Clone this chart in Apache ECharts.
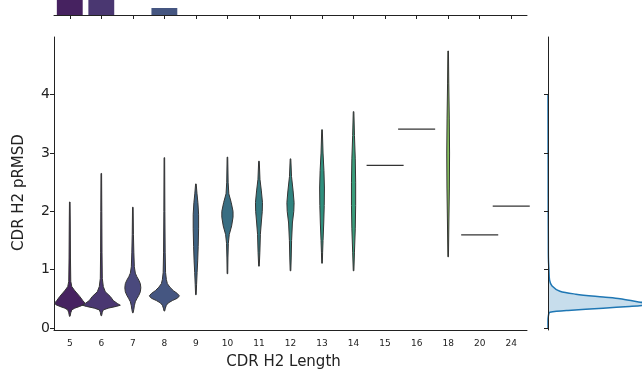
<!DOCTYPE html>
<html>
<head>
<meta charset="utf-8">
<script src="https://cdn.jsdelivr.net/npm/echarts@6/dist/echarts.min.js"></script>
<style>
  html, body { margin: 0; padding: 0; background: #fff; }
  #chart { width: 642px; height: 370px; }
</style>
</head>
<body>
<div id="chart"></div>
<script>
const categories = ["5", "6", "7", "8", "9", "10", "11", "12", "13", "14", "15", "16", "18", "20", "24"];
const viridis = ["#48186a", "#472d7b", "#424086", "#3b528b", "#33638d", "#2c728e", "#26828e", "#21918c",
                 "#1fa088", "#28ae80", "#3fbc73", "#5ec962", "#84d44b", "#addc30", "#d8e219"];

// top marginal histogram counts (5 and 6 run off the top of the figure)
const histCounts = [950, 820, 0, 70, 0, 0, 0, 0, 0, 0, 0, 0, 0, 0, 0];

// violin profiles: [pRMSD, half width (relative density)]
const violin5 = [[0.20, 0.3], [0.26, 1], [0.31, 2], [0.34, 5], [0.37, 10], [0.40, 14], [0.43, 15], [0.47, 13],
                 [0.54, 10], [0.60, 7], [0.65, 4.5], [0.71, 2], [0.80, 1], [1.2, 0.7], [1.8, 0.5], [2.16, 0.3]];
const violin6 = [[0.21, 0.3], [0.27, 1], [0.31, 2], [0.34, 7], [0.37, 15], [0.39, 19], [0.42, 16], [0.47, 12],
                 [0.54, 9], [0.62, 4], [0.71, 2], [0.85, 1], [1.3, 0.7], [2.0, 0.5], [2.65, 0.3]];
const violin7 = [[0.26, 0.3], [0.32, 1], [0.38, 1.5], [0.45, 2.5], [0.50, 4], [0.56, 6], [0.62, 7.5], [0.69, 8],
                 [0.76, 7.5], [0.82, 6], [0.88, 4], [0.94, 2.5], [1.05, 1.5], [1.3, 1], [1.6, 0.6], [2.07, 0.3]];
const violin8 = [[0.29, 0.3], [0.34, 1], [0.39, 2], [0.43, 4], [0.47, 8], [0.51, 13], [0.55, 15], [0.59, 13],
                 [0.64, 9], [0.70, 5.5], [0.76, 3], [0.83, 2], [0.95, 1.2], [1.3, 0.8], [2.0, 0.5], [2.92, 0.3]];
const violin9 = [[0.57, 0.3], [0.75, 0.7], [0.95, 1.2], [1.15, 1.8], [1.4, 2.3], [1.7, 2.7], [1.95, 2.7],
                 [2.15, 2.0], [2.3, 1.1], [2.47, 0.3]];
const violin10 = [[0.93, 0.3], [1.2, 0.5], [1.45, 0.9], [1.6, 1.8], [1.75, 4.2], [1.9, 5.6], [2.0, 5.6], [2.15, 3.8],
                  [2.3, 1.4], [2.5, 0.7], [2.93, 0.3]];
const violin11 = [[1.06, 0.3], [1.3, 0.9], [1.6, 1.4], [1.8, 2.3], [2.0, 3.3], [2.15, 3.5], [2.35, 2.4],
                  [2.55, 1], [2.86, 0.3]];
const violin12 = [[0.98, 0.3], [1.2, 0.7], [1.5, 1.1], [1.8, 1.9], [2.0, 3.3], [2.15, 3.6], [2.35, 2.6],
                  [2.6, 1], [2.9, 0.3]];
const violin13 = [[1.11, 0.3], [1.3, 0.6], [1.5, 1], [1.8, 1.7], [2.1, 2.2], [2.4, 2.4], [2.7, 1.9], [3.0, 1], [3.4, 0.3]];
const violin14 = [[0.98, 0.3], [1.3, 0.9], [1.7, 1.7], [2.1, 2.1], [2.5, 2.1], [2.9, 1.7], [3.3, 0.9], [3.71, 0.3]];
const violin18 = [[1.22, 0.3], [1.8, 0.7], [2.4, 1.2], [3.0, 1.4], [3.6, 1.1], [4.2, 0.6], [4.75, 0.3]];

// lengths with a single structure: drawn as a flat line
const singleCats = ["15", "16", "20", "24"];
const singleValues = [2.79, 3.41, 1.595, 2.09];

// right marginal KDE of pRMSD
const kdeRmsd = [0.0, 0.15, 0.20, 0.25, 0.27, 0.30, 0.34, 0.37, 0.39, 0.41, 0.43, 0.45, 0.50, 0.53, 0.58,
                 0.63, 0.72, 0.82, 1.0, 1.2, 1.5, 2.0, 2.5, 3.0, 3.5, 4.0];
const kdeDensity = [0, 0, 0.01, 0.03, 0.06, 0.64, 1.76, 2.6, 3.05, 3.2, 3.1, 2.85, 2.3, 1.76, 0.89,
                    0.38, 0.13, 0.05, 0.03, 0.013, 0.01, 0.006, 0.005, 0.003, 0.0015, 0];

const violinByCat = { "5": violin5, "6": violin6, "7": violin7, "8": violin8, "9": violin9, "10": violin10,
  "11": violin11, "12": violin12, "13": violin13, "14": violin14, "18": violin18 };

// seaborn-style desaturation (saturation 0.75)
function desat(hex, p) {
  let r = parseInt(hex.slice(1, 3), 16) / 255, g = parseInt(hex.slice(3, 5), 16) / 255, b = parseInt(hex.slice(5, 7), 16) / 255;
  const mx = Math.max(r, g, b), mn = Math.min(r, g, b), l = (mx + mn) / 2;
  const d = mx - mn;
  if (d === 0) return hex;
  const s = l < 0.5 ? d / (mx + mn) : d / (2 - mx - mn);
  const s2 = s * p;
  const d2 = l < 0.5 ? s2 * 2 * l : s2 * (2 - 2 * l);
  const f = (c) => Math.round(((c - mn) / d * d2 + (l - d2 / 2)) * 255);
  return "rgb(" + f(r) + "," + f(g) + "," + f(b) + ")";
}
const palette = viridis.map((c) => desat(c, 0.75));

const yMin = -0.035, yMax = 4.99;
const yTicks = [0, 1, 2, 3, 4];
const font = "DejaVu Sans";
const ink = "#222";

const chart = echarts.init(document.getElementById("chart"));

const option = {
  animation: false,
  textStyle: { fontFamily: font },
  grid: [
    { left: 54, right: 115, top: 37, bottom: 40, outerBoundsMode: "none", containLabel: false },
    { left: 54, right: 115, top: 0, bottom: 355, outerBoundsMode: "none", containLabel: false },
    { left: 548, right: 0, top: 37, bottom: 40, outerBoundsMode: "none", containLabel: false },
  ],
  xAxis: [
    {
      type: "category", gridIndex: 0, data: categories,
      axisLine: { onZero: false, lineStyle: { color: ink, width: 1 } },
      axisTick: { show: false },
      axisLabel: { fontSize: 9, color: ink, margin: 9, fontFamily: font },
      name: "CDR H2 Length", nameLocation: "middle", nameGap: 25,
      nameTextStyle: { fontSize: 15, color: ink, fontFamily: font, padding: [0, 14, 0, 0] },
    },
    {
      type: "category", gridIndex: 1, data: categories, z: 5,
      axisLine: { onZero: false, lineStyle: { color: ink, width: 1 } },
      axisTick: { show: true, interval: 0, alignWithLabel: true, length: 4, lineStyle: { color: ink } },
      axisLabel: { show: false, interval: 0 },
    },
    { type: "value", gridIndex: 2, min: 0, max: 3.0, show: false },
  ],
  yAxis: [
    {
      type: "value", gridIndex: 0, min: yMin, max: yMax,
      axisLine: { show: true, lineStyle: { color: ink, width: 1 } },
      axisTick: { show: true, length: 4, customValues: yTicks, lineStyle: { color: ink } },
      axisLabel: { customValues: yTicks, fontSize: 14, color: ink, margin: 4, fontFamily: font },
      splitLine: { show: false },
      name: "CDR H2 pRMSD", nameLocation: "middle", nameGap: 27,
      nameTextStyle: { fontSize: 15, color: ink, fontFamily: font, padding: [0, 18, 0, 0] },
    },
    { type: "value", gridIndex: 1, min: 0, max: 150, show: false },
    {
      type: "value", gridIndex: 2, min: yMin, max: yMax, z: 5,
      axisLine: { show: true, onZero: false, lineStyle: { color: ink, width: 1 } },
      axisTick: { show: true, length: 4, customValues: yTicks, lineStyle: { color: ink } },
      axisLabel: { show: false },
      splitLine: { show: false },
    },
  ],
  series: [
    {
      type: "bar", xAxisIndex: 1, yAxisIndex: 1, barWidth: "82%", z: 1,
      data: histCounts.map((v, i) => ({ value: v, itemStyle: { color: palette[i] } })),
    },
    {
      type: "custom", xAxisIndex: 0, yAxisIndex: 0,
      data: categories.map((c, i) => [i, 0]),
      renderItem: function (params, api) {
        const i = api.value(0);
        const cat = categories[i];
        const k = api.size([1, 0])[0] / 31.5;
        const cx = api.coord([i, 0])[0];
        const prof = violinByCat[cat];
        if (!prof) {
          const si = singleCats.indexOf(cat);
          const y = api.coord([i, singleValues[si]])[1];
          return {
            type: "line",
            shape: { x1: cx - 18.5 * k, y1: y, x2: cx + 18.5 * k, y2: y },
            style: { stroke: "#333", lineWidth: 1.2 },
          };
        }
        const right = prof.map((p) => [cx + p[1] * k, api.coord([i, p[0]])[1]]);
        const left = prof.slice().reverse().map((p) => [cx - p[1] * k, api.coord([i, p[0]])[1]]);
        return {
          type: "polygon",
          shape: { points: right.concat(left) },
          style: { fill: palette[i], stroke: "#333", lineWidth: 1 },
        };
      },
    },
    {
      type: "custom", xAxisIndex: 2, yAxisIndex: 2, z: 1,
      data: [[0, 0]],
      renderItem: function (params, api) {
        const pts = kdeRmsd.map((v, j) => api.coord([kdeDensity[j], v]));
        const x0 = api.coord([0, 0])[0];
        const area = [[x0, pts[0][1]]].concat(pts, [[x0, pts[pts.length - 1][1]]]);
        return {
          type: "group",
          children: [
            { type: "polygon", shape: { points: area, smooth: 0.3 }, style: { fill: "rgba(31,119,180,0.25)" } },
            { type: "polyline", shape: { points: pts, smooth: 0.3 }, style: { fill: null, stroke: "#1f77b4", lineWidth: 1.5 } },
          ],
        };
      },
    },
  ],
};

chart.setOption(option);
</script>
</body>
</html>
